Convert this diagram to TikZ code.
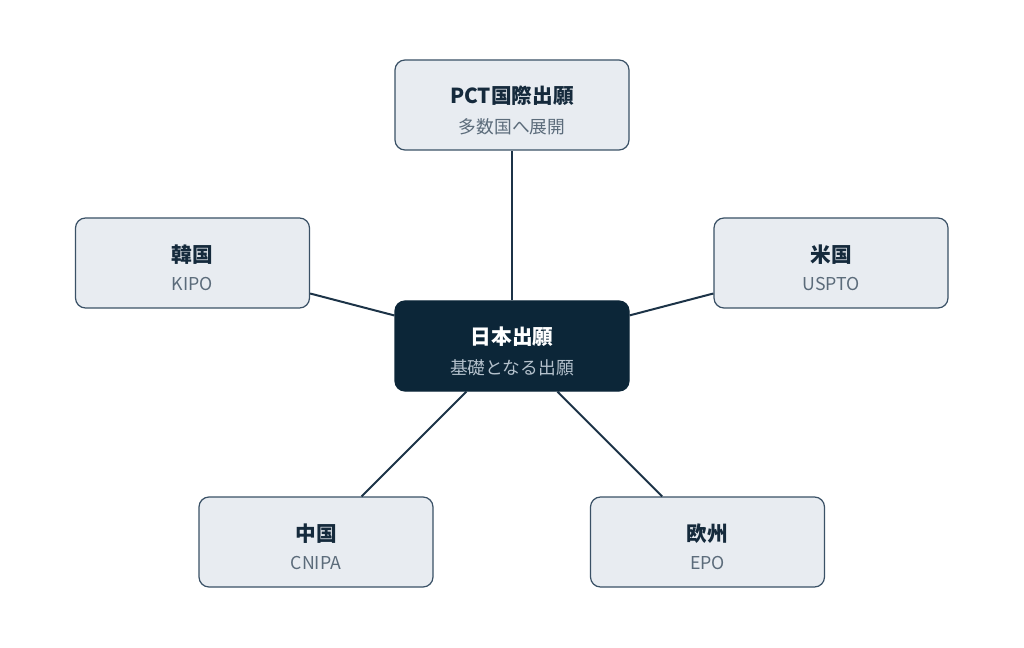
\documentclass[tikz,border=0pt]{standalone}
\usepackage{fontspec}
\setmainfont{Noto Sans CJK JP}
\definecolor{boxfill}{HTML}{E8ECF1}
\definecolor{boxline}{HTML}{3A5166}
\definecolor{navy}{HTML}{0C2638}
\definecolor{titlec}{HTML}{152A3C}
\definecolor{subc}{HTML}{5B6B7A}
\definecolor{subcc}{HTML}{B4C1CC}
\definecolor{edgec}{HTML}{1C3347}
\tikzset{
  office/.style={draw=boxline, line width=0.9pt, fill=boxfill, rounded corners=7.5pt,
    minimum width=175.5pt, minimum height=67.5pt, align=center, inner sep=0pt, text=titlec},
  hub/.style={office, draw=navy, fill=navy, text=white},
  link/.style={draw=edgec, line width=1.5pt},
}
\newcommand{\ttl}[1]{{\fontsize{15.5}{17}\selectfont\rule{0pt}{21pt}\bfseries #1}}
\newcommand{\sbt}[2]{{\fontsize{13.3}{15}\selectfont\color{#1}#2}}
\begin{document}
\begin{tikzpicture}[x=0.75pt,y=-0.75pt]
\useasboundingbox (0,0) rectangle (1024,648);
\node[office] (pct) at (512,105) {\ttl{PCT国際出願}\\[9pt]\sbt{subc}{多数国へ展開}};
\node[office] (kr) at (192.5,263) {\ttl{韓国}\\[9pt]\sbt{subc}{KIPO}};
\node[office] (us) at (831,263) {\ttl{米国}\\[9pt]\sbt{subc}{USPTO}};
\node[office] (cn) at (316,542) {\ttl{中国}\\[9pt]\sbt{subc}{CNIPA}};
\node[office] (eu) at (707.5,542) {\ttl{欧州}\\[9pt]\sbt{subc}{EPO}};
\node[hub] (jp) at (512,346) {\ttl{日本出願}\\[9pt]\sbt{subcc}{基礎となる出願}};
\draw[link] (jp) -- (pct);
\draw[link] (jp) -- (kr);
\draw[link] (jp) -- (us);
\draw[link] (jp) -- (cn);
\draw[link] (jp) -- (eu);
\end{tikzpicture}
\end{document}
